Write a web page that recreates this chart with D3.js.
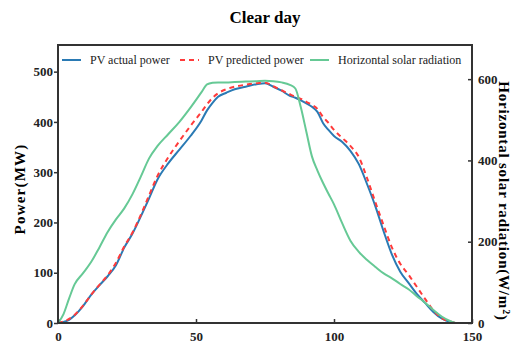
<!DOCTYPE html>
<html lang="en">

<head>
    <meta charset="utf-8">
    <title>Clear day</title>
    <script src="https://d3js.org/d3.v7.min.js"></script>
    <style>
        body { margin: 0; background: #fff; }
        text { font-family: "Liberation Serif", "Times New Roman", serif; }
    </style>
</head>

<body>
    <svg width="519" height="343"></svg>

    <script>
        // time index (x axis)
        const time = [0, 2, 4, 6, 9, 12, 15, 18, 21, 24, 27, 30, 33, 36, 40, 44, 48, 52, 54, 56, 58, 61, 64, 68, 72, 75,
            78, 81, 84, 86, 88, 90, 92, 94, 96, 98, 100, 103, 106, 109, 112, 115, 118, 121, 124, 127, 130, 133, 136, 139, 142, 144];

        const actualPower = [0, 2, 6, 15, 33, 56, 75, 93, 115, 150, 178, 212, 248, 285, 318, 345, 372, 403, 423, 438, 450, 458, 465, 470, 475, 477,
            470, 462, 452, 448, 443, 437, 430, 420, 398, 384, 372, 360, 342, 316, 276, 232, 182, 136, 102, 80, 58, 40, 22, 9, 2, 0];

        const predictedPower = [0, 3, 8, 16, 34, 56, 76, 95, 120, 152, 180, 215, 254, 292, 330, 362, 392, 420, 435, 448, 457, 465, 470, 474, 477, 478,
            471, 463, 455, 450, 446, 440, 434, 426, 410, 398, 384, 368, 352, 330, 288, 240, 194, 150, 118, 96, 72, 48, 25, 10, 3, 0];

        const radiation = [0, 22, 60, 95, 122, 150, 186, 224, 255, 282, 317, 360, 405, 435, 465, 495, 530, 568, 587, 591, 592, 592, 593, 594, 595, 596,
            595, 592, 586, 577, 530, 470, 410, 375, 345, 318, 292, 245, 202, 175, 155, 138, 122, 110, 96, 83, 66, 50, 32, 16, 5, 0];

        const xTicks = [0, 50, 100, 150];
        const leftTicks = [0, 100, 200, 300, 400, 500];
        const rightTicks = [0, 200, 400, 600];

        const svg = d3.select("svg");
        const margin = { top: 45, right: 47, bottom: 20, left: 58 };
        const width = 519 - margin.left - margin.right;
        const height = 343 - margin.top - margin.bottom;
        const axisColor = "#333";

        const x = d3.scaleLinear().domain([0, 150]).range([margin.left, margin.left + width]);
        const yL = d3.scaleLinear().domain([0, 553]).range([margin.top + height, margin.top]);
        const yR = d3.scaleLinear().domain([0, 684]).range([margin.top + height, margin.top]);

        // title
        svg.append("text")
            .attr("x", 265).attr("y", 23)
            .attr("text-anchor", "middle")
            .attr("font-size", 17).attr("font-weight", "bold")
            .text("Clear day");

        // lines
        const lineL = d3.line().x((d, i) => x(time[i])).y(d => yL(d)).curve(d3.curveMonotoneX);
        const lineR = d3.line().x((d, i) => x(time[i])).y(d => yR(d)).curve(d3.curveMonotoneX);

        svg.append("path").datum(actualPower)
            .attr("fill", "none").attr("stroke", "#2a7ab4").attr("stroke-width", 2)
            .attr("d", lineL);
        svg.append("path").datum(predictedPower)
            .attr("fill", "none").attr("stroke", "#ff3b3b").attr("stroke-width", 2)
            .attr("stroke-dasharray", "5,4")
            .attr("d", lineL);
        svg.append("path").datum(radiation)
            .attr("fill", "none").attr("stroke", "#66c995").attr("stroke-width", 2)
            .attr("d", lineR);

        // axes
        const fmt = d3.format("d");
        const gx = svg.append("g").attr("transform", `translate(0,${margin.top + height})`)
            .call(d3.axisBottom(x).tickValues(xTicks).tickFormat(fmt).tickSizeInner(-4).tickSizeOuter(0).tickPadding(9));
        const gl = svg.append("g").attr("transform", `translate(${margin.left},0)`)
            .call(d3.axisLeft(yL).tickValues(leftTicks).tickFormat(fmt).tickSizeInner(4).tickSizeOuter(0).tickPadding(1));
        const gr = svg.append("g").attr("transform", `translate(${margin.left + width},0)`)
            .call(d3.axisRight(yR).tickValues(rightTicks).tickFormat(fmt).tickSizeInner(-4).tickSizeOuter(0).tickPadding(6));

        [gx, gl, gr].forEach(g => {
            g.select(".domain").remove();
            g.selectAll("line").attr("stroke", axisColor).attr("stroke-width", 1.5);
            g.selectAll("text")
                .attr("font-family", "Liberation Serif, serif")
                .attr("font-size", 13).attr("font-weight", "bold").attr("fill", "#222");
        });

        // frame
        svg.append("rect")
            .attr("x", margin.left).attr("y", margin.top)
            .attr("width", width).attr("height", height)
            .attr("fill", "none").attr("stroke", axisColor).attr("stroke-width", 2);

        // axis titles
        svg.append("text")
            .attr("transform", `translate(20,189) rotate(-90)`)
            .attr("text-anchor", "middle").attr("dy", "0.35em")
            .attr("font-size", 15).attr("font-weight", "bold")
            .attr("letter-spacing", 1.2)
            .text("Power(MW)");

        const rt = svg.append("text")
            .attr("transform", `translate(504,201) rotate(90)`)
            .attr("text-anchor", "middle").attr("dy", "0.35em")
            .attr("font-size", 15).attr("font-weight", "bold")
            .attr("letter-spacing", 0.8);
        rt.append("tspan").text("Horizontal solar radiation(W/m");
        rt.append("tspan").attr("dy", "-0.45em").attr("font-size", 10).text("2");
        rt.append("tspan").attr("dy", "0.45em").text(")");

        // legend
        const legend = [
            { name: "PV actual power", color: "#2a7ab4", dash: null, x: 62 },
            { name: "PV predicted power", color: "#ff3b3b", dash: "5,4", x: 180 },
            { name: "Horizontal solar radiation", color: "#66c995", dash: null, x: 310 }
        ];
        const lg = svg.append("g").selectAll("g").data(legend).join("g")
            .attr("transform", d => `translate(${d.x},60)`);
        lg.append("line")
            .attr("x1", 0).attr("x2", 19).attr("y1", 0).attr("y2", 0)
            .attr("stroke", d => d.color).attr("stroke-width", 2)
            .attr("stroke-dasharray", d => d.dash);
        lg.append("text")
            .attr("x", 28).attr("dy", "0.35em")
            .attr("font-size", 12)
            .attr("fill", "#222")
            .text(d => d.name);
    </script>
</body>

</html>
